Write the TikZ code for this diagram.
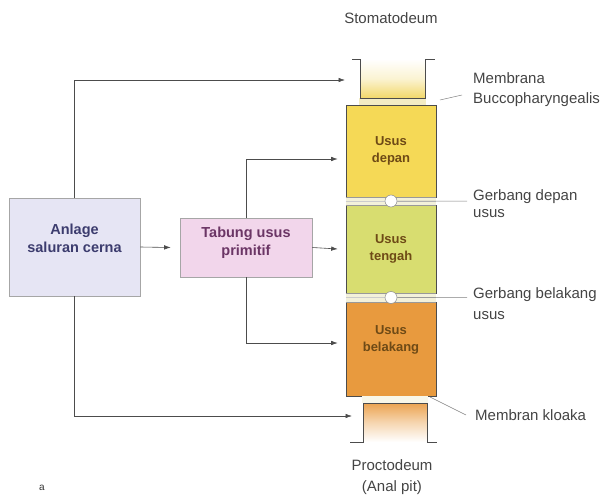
\documentclass[tikz,border=0pt]{standalone}
\usepackage{fontspec}
\setmainfont{Liberation Sans}
\usetikzlibrary{arrows.meta,calc}

\definecolor{anlageFill}{HTML}{E6E5F4}
\definecolor{anlageText}{HTML}{3C3C6E}
\definecolor{tabungFill}{HTML}{F2D6EB}
\definecolor{tabungText}{HTML}{6B3565}
\definecolor{depanFill}{HTML}{F5D956}
\definecolor{tengahFill}{HTML}{D8DD70}
\definecolor{belakangFill}{HTML}{E89A3E}
\definecolor{gutText}{HTML}{6E4A16}
\definecolor{stomFill}{HTML}{F2D86A}
\definecolor{procFill}{HTML}{EBA350}
\definecolor{bandFill}{HTML}{F3F1DA}
\definecolor{labelText}{HTML}{444444}

\begin{document}
\begin{tikzpicture}[x=1pt,y=-1pt,
  conn/.style={draw=black!70, line width=0.6pt},
  arr/.style={conn, -{Latex[length=6.5pt,width=4.5pt]}},
  lead/.style={draw=black!50, line width=0.5pt},
  cupline/.style={draw=black!70, line width=0.7pt},
  % multi-line labels are placed by the baseline of their last line
  lbl/.style={font=\fontsize{15}{17}\selectfont, text=labelText, align=left, anchor=base west, inner sep=0},
  ctrlbl/.style={font=\fontsize{15}{21}\selectfont, text=labelText, align=center, anchor=base, inner sep=0},
  srctext/.style={font=\bfseries\fontsize{14.5}{18}\selectfont, align=center, inner sep=0},
  guttext/.style={font=\bfseries\fontsize{13}{17}\selectfont, align=center, inner sep=0, text=gutText},
  srcbox/.style={draw=black!35, line width=0.6pt},
  gutbox/.style={draw=black!70, line width=0.6pt, minimum width=90pt},
  gate/.style={circle, draw=black!45, fill=white, line width=0.5pt, minimum size=12pt, inner sep=0},
]
\useasboundingbox (0,0) rectangle (608,495);

% ---- source boxes ----
\node[srcbox, fill=anlageFill, minimum width=131pt, minimum height=98pt] (anlage) at (74.5,247) {};
\node[srctext, text=anlageText] (anlageLbl) at ([yshift=9pt]anlage.center) {Anlage\\saluran cerna};

\node[srcbox, fill=tabungFill, minimum width=132pt, minimum height=59pt] (tabung) at (246,247.5) {};
\node[srctext, text=tabungText] (tabungLbl) at ([yshift=5pt]tabung.center) {Tabung usus\\primitif};

% ---- gut segments ----
\node[gutbox, fill=depanFill, minimum height=92pt] (depan) at (391,151) {};
\node[guttext] (depanLbl) at (depan.center) {Usus\\depan};

\node[gutbox, fill=tengahFill, minimum height=88pt] (tengah) at (391,249) {};
\node[guttext] (tengahLbl) at (tengah.center) {Usus\\tengah};

\node[gutbox, fill=belakangFill, minimum height=94pt] (belakang) at (391,349) {};
\node[guttext] (belakangLbl) at ([yshift=9pt]belakang.center) {Usus\\belakang};

% pale bands between the segments
\fill[bandFill] (depan.south west) rectangle (tengah.north east);
\draw[black!40, line width=0.4pt] (depan.south west) -- (depan.south east);
\draw[black!40, line width=0.4pt] (tengah.north west) -- (tengah.north east);
\draw[black!20, line width=0.4pt] ($(depan.south west)!0.5!(tengah.north west)$) -- ($(depan.south east)!0.5!(tengah.north east)$);

\fill[bandFill] (tengah.south west) rectangle (belakang.north east);
\draw[black!40, line width=0.4pt] (tengah.south west) -- (tengah.south east);
\draw[black!40, line width=0.4pt] (belakang.north west) -- (belakang.north east);
\draw[black!20, line width=0.4pt] ($(tengah.south west)!0.5!(belakang.north west)$) -- ($(tengah.south east)!0.5!(belakang.north east)$);

% ---- stomatodeum (open at top) ----
\fill[bandFill!80!stomFill] (359,98) rectangle (426,105);
\shade[top color=white, bottom color=stomFill, middle color=white!70!stomFill] (360,59) rectangle (425,98);
\draw[cupline] (352,59) -- (360,59) -- (360,98) -- (425,98) -- (425,59) -- (435,59);
\coordinate (stomIn) at (345,80);
\node[ctrlbl] (stomLbl) at (391,24) {Stomatodeum};

% ---- proctodeum (open at bottom) ----
\fill[bandFill!60!white] (362,396) rectangle (428,403);
\shade[top color=procFill, bottom color=white, middle color=white!55!procFill] (363,403) rectangle (427,442);
\draw[cupline] (350,442) -- (363,442) -- (363,403) -- (427,403) -- (427,442) -- (437,442);
\coordinate (procIn) at (352,416);
\node[ctrlbl] (procLbl) at (392,491) {Proctodeum\\(Anal pit)};

% ---- junction gates ----
\node[gate] (gateA) at ($(depan.south)!0.5!(tengah.north)$) {};
\node[gate] (gateB) at ($(tengah.south)!0.5!(belakang.north)$) {};

% ---- connectors ----
\draw[arr] (anlage.north) |- (stomIn);
\draw[arr] (anlage.south) |- (procIn);
\draw[arr] (anlage.east) -- ($(tabung.west)+(-9,0)$);
\draw[arr] (tabung.north) |- ($(depan.west)+(-8,8)$);
\draw[arr] (tabung.east) -- ($(tengah.west)+(-8,0)$);
\draw[arr] (tabung.south) |- ($(belakang.west)+(-8,-6)$);

% ---- side labels with leaders ----
\node[lbl] (mbLbl) at (473,103) {Membrana\\[3pt]Buccopharyngealis};
\draw[lead] (440,100) -- (462,95);

\node[lbl] (gdLbl) at (473,217) {Gerbang depan\\usus};
\draw[lead] (gateA.east) -- (467,201);

\node[lbl] (gbLbl) at (473,319) {Gerbang belakang\\[4pt]usus};
\draw[lead] (gateB.east) -- (467,297.5);

\node[lbl] (mkLbl) at (475,420) {Membran kloaka};
\draw[lead] (430,397) -- (466,415);

\node[font=\fontsize{10}{12}\selectfont, text=black!80, anchor=base, inner sep=0] (panel) at (42,490) {a};
\end{tikzpicture}
\end{document}
